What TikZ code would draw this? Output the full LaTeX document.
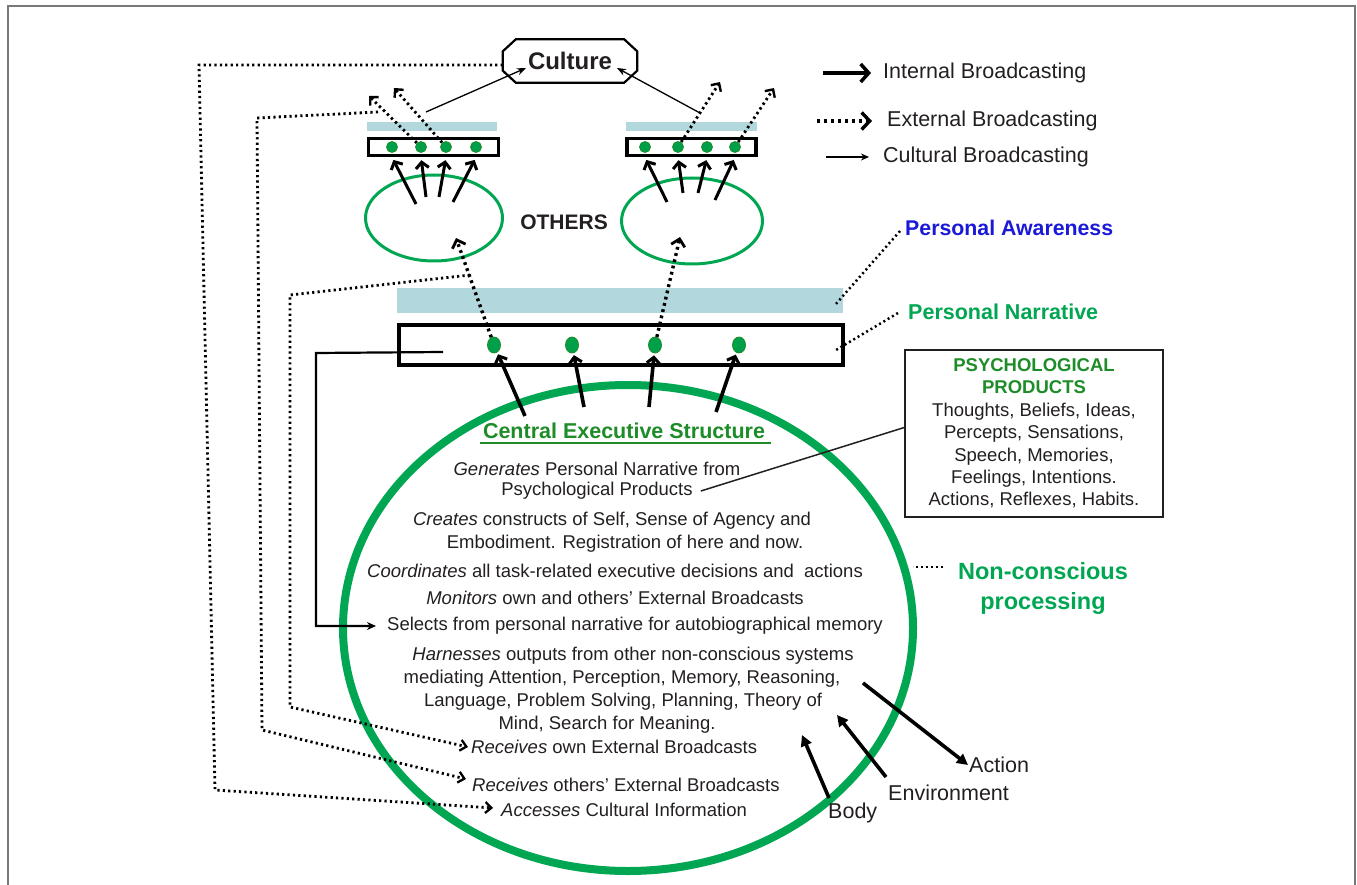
\documentclass[tikz,border=0pt]{standalone}
\usepackage{fontspec}
\setmainfont{Liberation Sans}
\usetikzlibrary{arrows.meta,shapes.geometric,calc}
\definecolor{gA}{RGB}{0,166,81}
\definecolor{gB}{RGB}{30,140,40}
\definecolor{gDot}{RGB}{0,160,75}
\definecolor{barc}{RGB}{178,216,222}
\definecolor{txt}{RGB}{35,31,32}
\definecolor{awblue}{RGB}{25,25,215}
\definecolor{framec}{RGB}{120,120,120}
\begin{document}
\begin{tikzpicture}[x=1pt,y=-1pt,
  body/.style={font=\fontsize{18.5}{22}\selectfont, text=txt, inner sep=0pt},
  lgd/.style={font=\fontsize{21.5}{25}\selectfont, text=txt, inner sep=0pt, anchor=west},
  intarrow/.style={line width=3.6pt, -{Straight Barb[length=6pt,width=13pt,line width=3pt]}},
  extarrow/.style={line width=3.4pt, dash pattern=on 2.8pt off 3.6pt, -{Straight Barb[length=7pt,width=14pt,line width=2.8pt]}},
  smallext/.style={line width=2.8pt, dash pattern=on 2.4pt off 3.2pt, -{Straight Barb[length=6pt,width=12pt,line width=2.4pt]}},
  retpath/.style={line width=2.8pt, dash pattern=on 2.2pt off 3.2pt, -{Straight Barb[length=6pt,width=11pt,line width=2.3pt]}},
  smalldots/.style={line width=2.5pt, dash pattern=on 2pt off 3pt},
  cularrow/.style={line width=1.3pt, -{Stealth[length=9pt,width=7pt]}},
  actarrow/.style={line width=3.6pt, -{Triangle[length=11pt,width=11pt]}},
  greenell/.style={ellipse, draw=gA, inner sep=0pt},
  bluebar/.style={fill=barc, inner sep=0pt},
  blackbox/.style={draw=black, line width=3.5pt, inner sep=0pt},
  gdot/.style={ellipse, fill=gDot, draw=gB, line width=0.8pt, inner sep=0pt, minimum width=11pt, minimum height=11pt},
  bigdot/.style={gdot, minimum width=13pt, minimum height=16pt}
]
\useasboundingbox (0,0) rectangle (1357,885);
% frame
\draw[framec, line width=2pt] (8,885) -- (8,6) -- (1355,6) -- (1355,885);

% Culture
\node[minimum width=134pt, minimum height=43pt, inner sep=0pt, text=txt, font=\fontsize{24}{28}\selectfont\bfseries] (culture) at (570,61) {Culture};
\draw[line width=2.2pt] ([xshift=13pt]culture.north west) -- ([xshift=-13pt]culture.north east) -- ([yshift=-12pt]culture.north east) -- ([yshift=12pt]culture.south east) -- ([xshift=-13pt]culture.south east) -- ([xshift=13pt]culture.south west) -- ([yshift=12pt]culture.south west) -- ([yshift=-12pt]culture.north west) -- cycle;

% Legend
\node[lgd] (lg1) at (883,73) {Internal Broadcasting};
\node[lgd] (lg2) at (887,121) {External Broadcasting};
\node[lgd] (lg3) at (883,157) {Cultural Broadcasting};
\draw[line width=4pt, -{Straight Barb[length=8pt,width=18pt,line width=3.5pt]}] ([xshift=-60pt]lg1.west) -- ([xshift=-12pt]lg1.west);
\draw[line width=3.8pt, dash pattern=on 3pt off 4pt, -{Straight Barb[length=8pt,width=17pt,line width=3.4pt]}] ([xshift=-70pt]lg2.west) -- ([xshift=-15pt]lg2.west);
\draw[line width=1.5pt, -{Stealth[length=8pt,width=7pt]}] ([xshift=-57pt]lg3.west) -- ([xshift=-14pt]lg3.west);

% Others: left
\node[bluebar, minimum width=130pt, minimum height=9pt] (lbar) at (432,126.5) {};
\node[blackbox, minimum width=130pt, minimum height=17pt] (lbox) at (433.5,147) {};
\node[gdot] (ld1) at (392,147) {};
\node[gdot] (ld2) at (421,147) {};
\node[gdot] (ld3) at (446,147) {};
\node[gdot] (ld4) at (476,147) {};
\node[greenell, line width=3pt, minimum width=137pt, minimum height=86pt] (lell) at (434,218) {};
% Others: right
\node[bluebar, minimum width=131pt, minimum height=9pt] (rbar) at (691.5,126.5) {};
\node[blackbox, minimum width=129pt, minimum height=17pt] (rbox) at (691.5,147) {};
\node[gdot] (rd1) at (645,147) {};
\node[gdot] (rd2) at (678,147) {};
\node[gdot] (rd3) at (707,147) {};
\node[gdot] (rd4) at (735,147) {};
\node[greenell, line width=3pt, minimum width=141pt, minimum height=86pt] (rell) at (692,221) {};
\node[font=\fontsize{21}{24}\selectfont\bfseries, text=txt, inner sep=0pt] (others) at (564,222) {OTHERS};

% internal arrows in others
\coordinate (la1) at (416,204); \coordinate (la2) at (426,197); \coordinate (la3) at (439,197); \coordinate (la4) at (453,202);
\draw[intarrow, line width=3pt, shorten >=3pt] (la1) -- (ld1 |- lbox.south);
\draw[intarrow, line width=3pt, shorten >=3pt] (la2) -- (ld2 |- lbox.south);
\draw[intarrow, line width=3pt, shorten >=3pt] (la3) -- (ld3 |- lbox.south);
\draw[intarrow, line width=3pt, shorten >=3pt] (la4) -- (ld4 |- lbox.south);
\coordinate (ra1) at (667,202); \coordinate (ra2) at (683,193); \coordinate (ra3) at (698,193); \coordinate (ra4) at (715,200);
\draw[intarrow, line width=3pt, shorten >=3pt] (ra1) -- (rd1 |- rbox.south);
\draw[intarrow, line width=3pt, shorten >=3pt] (ra2) -- (rd2 |- rbox.south);
\draw[intarrow, line width=3pt, shorten >=3pt] (ra3) -- (rd3 |- rbox.south);
\draw[intarrow, line width=3pt, shorten >=3pt] (ra4) -- (rd4 |- rbox.south);

% external arrows from others boxes
\coordinate (lt1) at (369,96); \coordinate (lt2) at (394,88);
\coordinate (rt1) at (720,82); \coordinate (rt2) at (774,88);
\draw[smallext] (ld2) -- (lt1);
\draw[smallext] (ld3) -- (lt2);
\draw[smallext] (rd2) -- (rt1);
\draw[smallext] (rd4) -- (rt2);

% cultural arrows
\coordinate (cs1) at (426,112); \coordinate (ce1) at (526,68);
\coordinate (cs2) at (700,113); \coordinate (ce2) at (617,68);
\draw[cularrow] (cs1) -- (ce1);
\draw[cularrow] (cs2) -- (ce2);

% Personal awareness bar & narrative box
\node[bluebar, minimum width=446pt, minimum height=25pt] (awbar) at (620,300.5) {};
\node[blackbox, minimum width=444pt, minimum height=40pt] (nbox) at (621,345) {};
\node[bigdot] (n1) at (494,345) {};
\node[bigdot] (n2) at (572,345) {};
\node[bigdot] (n3) at (655,345) {};
\node[bigdot] (n4) at (739,345) {};

% Big ellipse
\node[greenell, line width=8pt, minimum width=570pt, minimum height=486pt] (bigell) at (628,628) {};

% external arrows from narrative to others
\coordinate (ot1) at (456,238); \coordinate (ot2) at (680,237);
\draw[extarrow] (n1) -- (ot1);
\draw[extarrow] (n3) -- (ot2);

% internal arrows from big ellipse to narrative
\coordinate (ba1) at (525,416); \coordinate (ba2) at (584,407); \coordinate (ba3) at (649,407); \coordinate (ba4) at (716,412);
\draw[intarrow, shorten >=2pt] (ba1) -- (n1);
\draw[intarrow, shorten >=2pt] (ba2) -- (n2);
\draw[intarrow, shorten >=2pt] (ba3) -- (n3);
\draw[intarrow, shorten >=2pt] (ba4) -- (n4);

% labels right
\node[anchor=west, inner sep=0pt, text=awblue, font=\fontsize{21.3}{25}\selectfont\bfseries] (paw) at (905,228) {Personal Awareness};
\node[anchor=west, inner sep=0pt, text=gA, font=\fontsize{21.5}{25}\selectfont\bfseries] (pnar) at (908,312) {Personal Narrative};
\coordinate (awend) at (835,305);
\coordinate (narend) at (836,350);
\draw[smalldots] ([xshift=-5pt,yshift=-3pt]paw.west) -- (awend);
\draw[smalldots] ([xshift=-10pt,yshift=-1pt]pnar.west) -- (narend);

\node[draw=txt, line width=1.5pt, minimum width=258pt, minimum height=167pt, align=center, text=txt, font=\fontsize{18.5}{22.4}\selectfont] (pp) at (1034,433.5)
 {\textcolor{gB}{\bfseries PSYCHOLOGICAL}\\\textcolor{gB}{\bfseries PRODUCTS}\\Thoughts, Beliefs, Ideas,\\Percepts, Sensations,\\Speech, Memories,\\Feelings, Intentions.\\Actions, Reflexes, Habits.};

\node[align=center, inner sep=0pt, text=gA, font=\fontsize{23.5}{30}\selectfont\bfseries] (ncp) at (1043,588) {Non-conscious\\processing};
\coordinate (ncpend) at (913,567);
\draw[smalldots] (943,567) -- (ncpend);

% central executive text
\node[inner sep=0pt, text=gB, font=\fontsize{21.5}{25}\selectfont\bfseries] (ces) at (624,431) {Central Executive Structure};
\draw[gB, line width=1.5pt] (480,443) -- (771,443);
\node[body] (gen) at (597,469) {\textit{Generates} Personal Narrative from};
\node[body] (psy) at (597,491) {Psychological Products};
\node[body] (cre) at (612,521) {\textit{Creates} constructs of Self, Sense of Agency and};
\node[body] (emb) at (625,544) {Embodiment. Registration of here and now.};
\node[body] (coo) at (615,571) {\textit{Coordinates} all task-related executive decisions and \ actions};
\node[body] (mon) at (615,598) {\textit{Monitors} own and others’ External Broadcasts};
\node[body] (sel) at (635,626) {Selects from personal narrative for autobiographical memory};
\node[body] (har) at (633,656) {\textit{Harnesses} outputs from other non-conscious systems};
\node[body] (med) at (622,679) {mediating Attention, Perception, Memory, Reasoning,};
\node[body] (lan) at (623,702) {Language, Problem Solving, Planning, Theory of};
\node[body] (min) at (607,725) {Mind, Search for Meaning.};
\node[body, anchor=west] (rown) at (471,747) {\textit{Receives} own External Broadcasts};
\node[body, anchor=west] (roth) at (472,785) {\textit{Receives} others’ External Broadcasts};
\node[body, anchor=west] (acc) at (501,810) {\textit{Accesses} Cultural Information};

% line from Psychological Products to box
\draw[line width=1.5pt, txt] ([xshift=8pt]psy.east) -- ([yshift=6pt]pp.west);

% selects path
\coordinate (selstart) at (443,352);
\draw[line width=2.2pt, -{Stealth[length=9pt,width=8pt]}] (selstart) -- (316,353) |- ([xshift=-11pt]sel.west);

% return paths (dotted)
\coordinate (jn) at (470,275);
\draw[retpath] (jn) -- (290,295) -- (290,707) -- ([xshift=-3pt]rown.west);
\coordinate (mstart) at (378,112);
\draw[retpath] (mstart) -- (257,118) -- (262,730) -- ([xshift=-6pt,yshift=6pt]roth.west);
\draw[retpath] ([yshift=-4pt]culture.west) -- (199,65) -- (215,790) -- ([xshift=-8pt,yshift=2pt]acc.west);

% action / environment / body
\node[anchor=west, inner sep=1pt, text=txt, font=\fontsize{21.5}{25}\selectfont] (action) at (968,765) {Action};
\node[anchor=west, inner sep=1pt, text=txt, font=\fontsize{21.5}{25}\selectfont] (env) at (887,793) {Environment};
\node[anchor=west, inner sep=1pt, text=txt, font=\fontsize{21.5}{25}\selectfont] (bodyl) at (827,813) {Body};
\coordinate (acts) at (863,683);
\coordinate (envs) at (886,777); \coordinate (envt) at (837,715);
\coordinate (bods) at (829,798); \coordinate (bodt) at (802,735);
\draw[actarrow] (acts) -- (action.west);
\draw[actarrow] (envs) -- (envt);
\draw[actarrow] (bods) -- (bodt);
\end{tikzpicture}
\end{document}
